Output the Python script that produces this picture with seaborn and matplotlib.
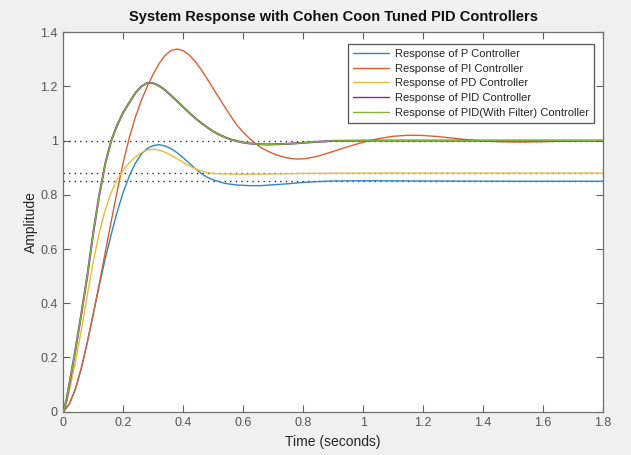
import numpy as np
import pandas as pd
import matplotlib
matplotlib.use('Agg')
import matplotlib.pyplot as plt
import seaborn as sns

# step responses (time in s, amplitude)
t_p = [0, 0.02, 0.04, 0.06, 0.08, 0.10, 0.12, 0.14, 0.16, 0.18, 0.20, 0.22, 0.24, 0.26, 0.28,
       0.30, 0.32, 0.34, 0.36, 0.38, 0.40, 0.42, 0.44, 0.46, 0.48, 0.50, 0.54, 0.58, 0.62, 0.66,
       0.70, 0.75, 0.80, 0.85, 0.90, 1.0, 1.2, 1.5, 1.8]
y_p = [0, 0.028, 0.082, 0.160, 0.255, 0.360, 0.465, 0.565, 0.655, 0.738, 0.810, 0.869, 0.916,
       0.950, 0.971, 0.982, 0.985, 0.980, 0.970, 0.955, 0.937, 0.917, 0.897, 0.879, 0.865, 0.855,
       0.842, 0.836, 0.834, 0.834, 0.837, 0.841, 0.846, 0.849, 0.851, 0.852, 0.851, 0.850, 0.850]

t_pi = [0, 0.02, 0.04, 0.06, 0.08, 0.10, 0.12, 0.14, 0.16, 0.18, 0.20, 0.22, 0.24, 0.26, 0.28,
        0.30, 0.32, 0.34, 0.36, 0.38, 0.40, 0.42, 0.44, 0.46, 0.48, 0.50, 0.52, 0.54, 0.56, 0.58,
        0.60, 0.62, 0.64, 0.66, 0.68, 0.70, 0.72, 0.74, 0.76, 0.78, 0.80, 0.82, 0.85, 0.90, 0.95,
        1.00, 1.05, 1.10, 1.15, 1.20, 1.25, 1.30, 1.35, 1.40, 1.45, 1.50, 1.55, 1.60, 1.70, 1.80]
y_pi = [0, 0.028, 0.082, 0.160, 0.256, 0.362, 0.472, 0.588, 0.703, 0.815, 0.920, 1.010, 1.085,
        1.148, 1.200, 1.245, 1.285, 1.315, 1.333, 1.338, 1.332, 1.316, 1.292, 1.262, 1.228, 1.192,
        1.157, 1.122, 1.088, 1.056, 1.031, 1.009, 0.990, 0.974, 0.962, 0.952, 0.944, 0.938, 0.934,
        0.932, 0.933, 0.936, 0.943, 0.960, 0.978, 0.994, 1.007, 1.016, 1.020, 1.019, 1.015, 1.009,
        1.003, 0.999, 0.996, 0.995, 0.995, 0.996, 0.999, 1.000]

t_pd = [0, 0.01, 0.02, 0.04, 0.06, 0.08, 0.10, 0.12, 0.14, 0.16, 0.18, 0.20, 0.22, 0.24, 0.26,
        0.28, 0.30, 0.32, 0.34, 0.36, 0.38, 0.40, 0.42, 0.44, 0.46, 0.48, 0.50, 0.54, 0.60, 0.70,
        0.80, 1.0, 1.8]
y_pd = [0, 0.030, 0.075, 0.180, 0.300, 0.430, 0.555, 0.660, 0.745, 0.810, 0.858, 0.892, 0.918,
        0.940, 0.955, 0.965, 0.968, 0.965, 0.957, 0.946, 0.933, 0.920, 0.907, 0.896, 0.888, 0.882,
        0.879, 0.877, 0.876, 0.877, 0.879, 0.880, 0.880]

t_pid = [0, 0.01, 0.02, 0.04, 0.06, 0.08, 0.10, 0.12, 0.14, 0.16, 0.18, 0.20, 0.22, 0.24, 0.26,
         0.28, 0.30, 0.32, 0.34, 0.36, 0.38, 0.40, 0.42, 0.44, 0.46, 0.48, 0.50, 0.52, 0.54, 0.56,
         0.58, 0.60, 0.62, 0.65, 0.68, 0.72, 0.76, 0.80, 0.85, 0.90, 1.0, 1.8]
y_pid = [0, 0.040, 0.100, 0.225, 0.360, 0.500, 0.660, 0.800, 0.915, 1.000, 1.058, 1.104, 1.140,
         1.175, 1.200, 1.213, 1.212, 1.202, 1.186, 1.166, 1.145, 1.124, 1.103, 1.083, 1.065, 1.049,
         1.034, 1.022, 1.012, 1.004, 0.998, 0.993, 0.990, 0.987, 0.986, 0.987, 0.989, 0.992, 0.996,
         0.999, 1.000, 1.000]

# PID with filter sits on top of the plain PID curve
t_pidf = t_pid
y_pidf = y_pid

steady = [1.0, 0.88, 0.85]

labels = ["Response of P Controller", "Response of PI Controller", "Response of PD Controller",
          "Response of PID Controller", "Response of PID(With Filter) Controller"]
colors = ["#2a86c8", "#dc5f30", "#eebb35", "#7E2F8E", "#80b23e"]
series = [(t_p, y_p), (t_pi, y_pi), (t_pd, y_pd), (t_pid, y_pid), (t_pidf, y_pidf)]

sns.set_style("ticks")
plt.rcParams["font.family"] = ["Liberation Sans", "DejaVu Sans"]

fig = plt.figure(figsize=(6.31, 4.55), dpi=100, facecolor="#f0f0f0")
ax = fig.add_axes([0.1003, 0.0952, 0.8553, 0.834])
ax.set_facecolor("white")

for yv in steady:
    ax.axhline(yv, color="#303030", lw=1.0, ls=(0, (1, 3)), zorder=1)

for (tt, yy), lab, col in zip(series, labels, colors):
    df = pd.DataFrame({"t": tt, "y": yy})
    lw = 1.5 if lab == labels[3] else 1.0
    sns.lineplot(data=df, x="t", y="y", ax=ax, color=col, lw=lw, label=lab,
                 estimator=None, sort=False, zorder=3)

ax.set_xlim(0, 1.8)
ax.set_ylim(0, 1.4)
xt = np.arange(0, 1.81, 0.2)
yt = np.arange(0, 1.41, 0.2)
ax.set_xticks(xt)
ax.set_yticks(yt)
ax.set_xticklabels(["%g" % round(v, 1) for v in xt])
ax.set_yticklabels(["%g" % round(v, 1) for v in yt])
ax.tick_params(direction="in", length=5, width=0.8, top=True, right=True,
               colors="#606060", labelsize=9, labelcolor="#555555", pad=4)
for s in ax.spines.values():
    s.set_visible(True)
    s.set_color("#707070")
    s.set_linewidth(0.9)

ax.set_xlabel("Time (seconds)", fontsize=10, color="#262626", labelpad=4)
ax.set_ylabel("Amplitude", fontsize=10, color="#262626", labelpad=2)
ax.set_title("System Response with Cohen Coon Tuned PID Controllers", fontsize=10.5,
             fontweight="bold", color="#111111", pad=8)

leg = ax.legend(loc="upper right", bbox_to_anchor=(0.983, 0.969), borderaxespad=0,
                fontsize=8, frameon=True, fancybox=False, handlelength=3.3,
                labelspacing=0.42, borderpad=0.45, handletextpad=0.5)
leg.get_frame().set_edgecolor("#555555")
leg.get_frame().set_linewidth(0.9)
leg.get_frame().set_alpha(1)
for h in leg.get_lines():
    h.set_linewidth(1.0)

fig.savefig("out.png", dpi=100, facecolor=fig.get_facecolor())
